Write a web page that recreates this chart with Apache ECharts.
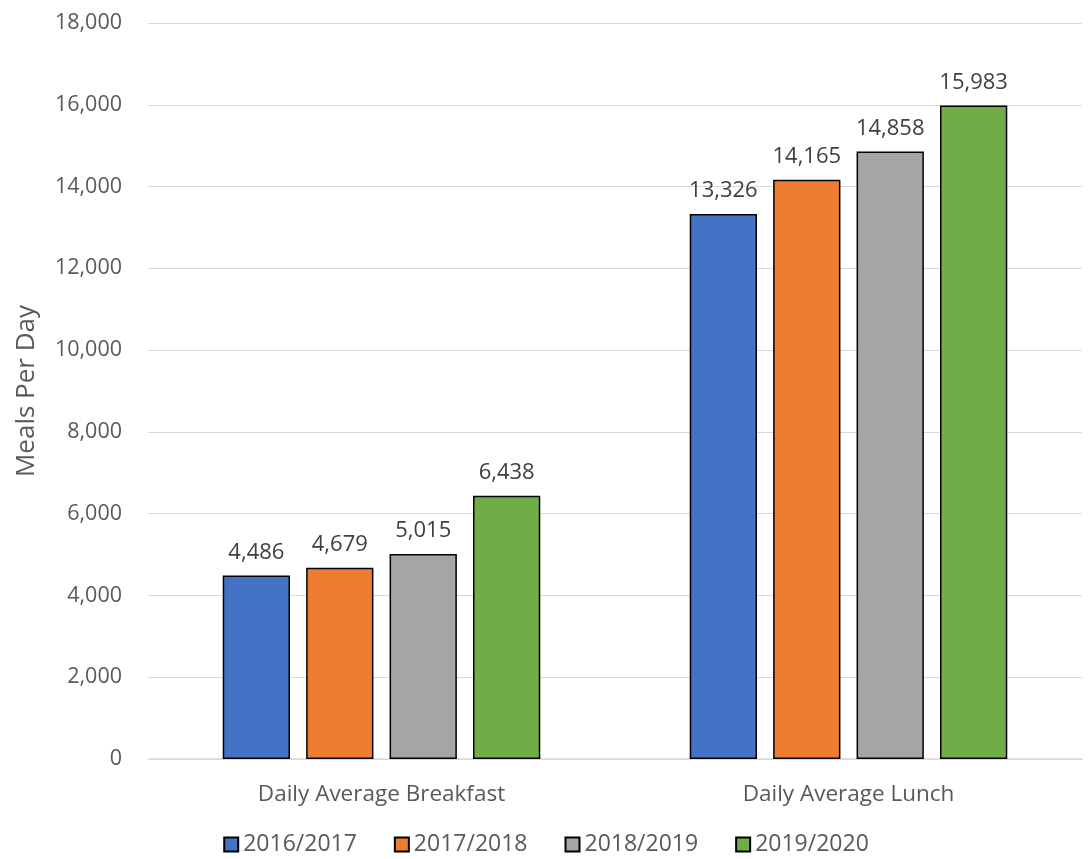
<!DOCTYPE html>
<html><head><meta charset="utf-8">
<script src="https://cdn.jsdelivr.net/npm/echarts@6/dist/echarts.min.js"></script>
<style>html,body{margin:0;padding:0;background:#fff}#c{width:1092px;height:859px}</style>
</head><body><div id="c"></div>
<script>
const categories = ['Daily Average Breakfast', 'Daily Average Lunch'];
const seriesNames = ['2016/2017', '2017/2018', '2018/2019', '2019/2020'];
const s2016 = [4486, 13326];
const s2017 = [4679, 14165];
const s2018 = [5015, 14858];
const s2019 = [6438, 15983];
const colors = ['#4472C4', '#ED7D31', '#A5A5A5', '#70AD47'];
const values = [s2016, s2017, s2018, s2019];
const FONT = 'Open Sans';
const chart = echarts.init(document.getElementById('c'));
chart.setOption({
  animation: false,
  textStyle: { fontFamily: FONT },
  grid: { left: 148, right: 10, top: 23, bottom: 100 },
  legend: {
    bottom: -2, left: 'center', itemWidth: 14, itemHeight: 14, itemGap: 37,
    icon: 'rect',
    textStyle: { fontFamily: FONT, fontSize: 23, color: '#595959', padding: [0, 0, 0, 0] },
    data: seriesNames
  },
  xAxis: {
    type: 'category', data: categories,
    axisLine: { lineStyle: { color: '#D9D9D9', width: 1.5 } },
    axisTick: { show: false },
    axisLabel: { fontFamily: FONT, fontSize: 22.5, color: '#595959', margin: 24 }
  },
  yAxis: {
    type: 'value', min: 0, max: 18000, interval: 2000,
    name: 'Meals Per Day', nameLocation: 'middle', nameGap: 108, nameRotate: 90,
    nameTextStyle: { fontFamily: FONT, fontSize: 26, color: '#595959' },
    axisLine: { show: false }, axisTick: { show: false },
    splitLine: { lineStyle: { color: '#D9D9D9', width: 1 } },
    axisLabel: { fontFamily: FONT, fontSize: 21.5, color: '#595959', margin: 26,
      formatter: v => v.toLocaleString('en-US') }
  },
  series: seriesNames.map((n, i) => ({
    name: n, type: 'bar', data: values[i],
    barGap: '24%', barCategoryGap: '32%',
    itemStyle: { color: colors[i], borderColor: '#000', borderWidth: 1.5 },
    label: { show: true, position: 'top', distance: 12, fontFamily: FONT, fontSize: 22, color: '#404040',
      formatter: p => p.value.toLocaleString('en-US') }
  }))
});
</script></body></html>
